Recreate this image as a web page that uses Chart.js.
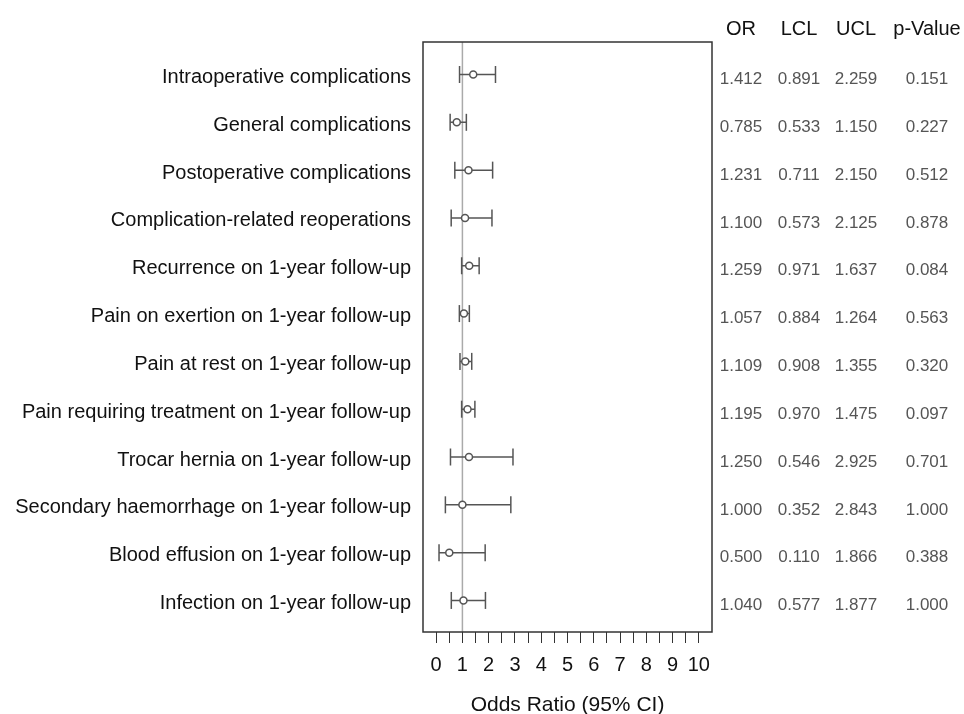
<!DOCTYPE html>
<html lang="en">
<head>
  <meta charset="UTF-8" />
  <title>Odds Ratio forest plot</title>
  <style>
    body { margin: 0; background: #fff; }
    #forest { display: block; }
  </style>
</head>
<body>
  <canvas id="forest" width="964" height="714"></canvas>

  <script src="https://cdn.jsdelivr.net/npm/chart.js"></script>
  <script>
    // outcomes, top to bottom
    const outcomes = [
      'Intraoperative complications',
      'General complications',
      'Postoperative complications',
      'Complication-related reoperations',
      'Recurrence on 1-year follow-up',
      'Pain on exertion on 1-year follow-up',
      'Pain at rest on 1-year follow-up',
      'Pain requiring treatment on 1-year follow-up',
      'Trocar hernia on 1-year follow-up',
      'Secondary haemorrhage on 1-year follow-up',
      'Blood effusion on 1-year follow-up',
      'Infection on 1-year follow-up'
    ];
    const oddsRatio = [1.412, 0.785, 1.231, 1.100, 1.259, 1.057, 1.109, 1.195, 1.250, 1.000, 0.500, 1.040];
    const lowerCL   = [0.891, 0.533, 0.711, 0.573, 0.971, 0.884, 0.908, 0.970, 0.546, 0.352, 0.110, 0.577];
    const upperCL   = [2.259, 1.150, 2.150, 2.125, 1.637, 1.264, 1.355, 1.475, 2.925, 2.843, 1.866, 1.877];
    const pValue    = [0.151, 0.227, 0.512, 0.878, 0.084, 0.563, 0.320, 0.097, 0.701, 1.000, 0.388, 1.000];

    const xTickValues = [0, 0.5, 1, 1.5, 2, 2.5, 3, 3.5, 4, 4.5, 5, 5.5, 6, 6.5, 7, 7.5, 8, 8.5, 9, 9.5, 10];
    const tableHeaders = ['OR', 'LCL', 'UCL', 'p-Value'];
    const nullValue = 1;

    const FONT = "'Liberation Sans', Arial, sans-serif";
    const ink = '#555';

    // build the point lists from the arrays
    const ciSegments = [];
    const ciCaps = [];
    const orPoints = [];
    outcomes.forEach((name, i) => {
      const row = i + 1;
      ciSegments.push({ x: lowerCL[i], y: row }, { x: upperCL[i], y: row }, { x: null, y: null });
      ciCaps.push({ x: lowerCL[i], y: row }, { x: upperCL[i], y: row });
      orPoints.push({ x: oddsRatio[i], y: row });
    });

    const Y_MIN = 0.32, Y_MAX = 12.66;

    // box around the plot + the OR / LCL / UCL / p table on the right
    const forestTable = {
      id: 'forestTable',
      afterDraw(chart) {
        const { ctx, chartArea, scales } = chart;
        ctx.save();
        ctx.strokeStyle = '#333';
        ctx.lineWidth = 1.5;
        ctx.strokeRect(chartArea.left, chartArea.top, chartArea.right - chartArea.left, chartArea.bottom - chartArea.top);

        const colX = [741, 799, 856, 927];
        ctx.textAlign = 'center';
        ctx.textBaseline = 'middle';
        ctx.fillStyle = '#111';
        ctx.font = '20px ' + FONT;
        tableHeaders.forEach((h, c) => ctx.fillText(h, colX[c], 29));

        ctx.fillStyle = '#555';
        ctx.font = '17px ' + FONT;
        outcomes.forEach((name, i) => {
          const y = scales.y.getPixelForValue(i + 1) + 5;
          const vals = [oddsRatio[i], lowerCL[i], upperCL[i], pValue[i]];
          vals.forEach((v, c) => ctx.fillText(v.toFixed(3), colX[c], y));
        });
        ctx.restore();
      }
    };

    new Chart(document.getElementById('forest'), {
      type: 'scatter',
      data: {
        datasets: [
          {
            label: 'reference',
            data: [{ x: nullValue, y: Y_MIN }, { x: nullValue, y: Y_MAX }],
            showLine: true,
            borderColor: '#aaa',
            borderWidth: 1.5,
            pointRadius: 0,
            order: 4
          },
          {
            label: 'CI',
            data: ciSegments,
            showLine: true,
            spanGaps: false,
            borderColor: ink,
            borderWidth: 1.5,
            pointRadius: 0,
            order: 3
          },
          {
            label: 'caps',
            data: ciCaps,
            pointStyle: 'line',
            rotation: 90,
            pointRadius: 8.5,
            borderColor: ink,
            borderWidth: 1.5,
            order: 2
          },
          {
            label: 'OR',
            data: orPoints,
            pointStyle: 'circle',
            pointRadius: 3.5,
            borderColor: ink,
            backgroundColor: '#fff',
            borderWidth: 1.5,
            order: 1
          }
        ]
      },
      options: {
        responsive: false,
        animation: false,
        layout: { padding: { top: 42, right: 252, bottom: 0, left: 0 } },
        plugins: {
          legend: { display: false },
          tooltip: { enabled: false }
        },
        scales: {
          x: {
            type: 'linear',
            min: -0.5,
            max: 10.5,
            afterBuildTicks: s => { s.ticks = xTickValues.map(v => ({ value: v })); },
            afterFit: s => { s.height = 82; },
            border: { display: false },
            grid: { drawOnChartArea: false, drawTicks: true, tickLength: 11, tickColor: '#333', lineWidth: 1 },
            ticks: {
              autoSkip: false,
              maxRotation: 0,
              padding: 10,
              color: '#111',
              font: { family: FONT, size: 20 },
              callback: v => Number.isInteger(v) ? String(v) : ''
            },
            title: {
              display: true,
              text: 'Odds Ratio (95% CI)',
              color: '#111',
              font: { family: FONT, size: 21, lineHeight: 0.86 },
              padding: { top: 0, bottom: 0 }
            }
          },
          y: {
            type: 'linear',
            reverse: true,
            min: Y_MIN,
            max: Y_MAX,
            afterBuildTicks: s => { s.ticks = outcomes.map((_, i) => ({ value: i + 1 })); },
            afterFit: s => { s.width = 423; },
            border: { display: false },
            grid: { display: false, drawTicks: false },
            ticks: {
              autoSkip: false,
              padding: 12,
              labelOffset: 3,
              color: '#111',
              font: { family: FONT, size: 20 },
              callback: v => outcomes[v - 1]
            }
          }
        }
      },
      plugins: [forestTable]
    });
  </script>
</body>
</html>
